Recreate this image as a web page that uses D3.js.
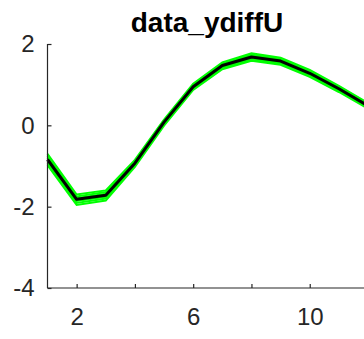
<!DOCTYPE html>
<html><head><meta charset="utf-8">
<script src="https://cdn.jsdelivr.net/npm/d3@7"></script>
<style>html,body{margin:0;padding:0;background:#fff;overflow:hidden}</style>
</head><body>
<svg id="c" width="364" height="339"></svg>
<script>
const xs = [1,2,3,4,5,6,7,8,9,10,11,12];
const meanVals = [-0.84,-1.82,-1.72,-0.93,0.08,0.95,1.47,1.68,1.58,1.28,0.90,0.48];
const sample1 = [-0.70,-1.70,-1.60,-0.85,0.14,1.02,1.55,1.77,1.66,1.36,0.97,0.55];
const sample2 = [-0.75,-1.75,-1.64,-0.88,0.12,0.99,1.52,1.74,1.63,1.33,0.95,0.53];
const sample3 = [-0.80,-1.79,-1.68,-0.90,0.10,0.97,1.50,1.71,1.61,1.31,0.93,0.51];
const sample4 = [-0.88,-1.86,-1.76,-0.96,0.05,0.93,1.44,1.65,1.55,1.25,0.87,0.46];
const sample5 = [-0.93,-1.91,-1.80,-0.99,0.02,0.90,1.41,1.62,1.52,1.22,0.85,0.44];
const sample6 = [-0.98,-1.96,-1.85,-1.02,-0.01,0.87,1.38,1.59,1.49,1.19,0.82,0.41];
const samples = [sample1,sample2,sample3,sample4,sample5,sample6];
const xTicks = [2,4,6,8,10,12];
const xTickLabels = ["2","","6","","10",""];
const yTicks = [-4,-2,0,2];
const yTickLabels = ["-4","-2","0","2"];
const title = "data_ydiffU";

const svg = d3.select("#c");
const x = d3.scaleLinear().domain([1,12]).range([47.5,368]);
const y = d3.scaleLinear().domain([-4,2]).range([288,44]);
const line = d3.line().x((d,i)=>x(xs[i])).y(d=>y(d));
const ff = "Liberation Sans, Arial, sans-serif";

const g = svg.append("g");
samples.forEach(s=>{
  g.append("path").attr("d",line(s)).attr("fill","none")
   .attr("stroke","#00ff00").attr("stroke-width",2);
});
g.append("path").attr("d",line(meanVals)).attr("fill","none")
 .attr("stroke","#000").attr("stroke-width",3).attr("stroke-linejoin","round");

const col = "#262626";
const xAxis = d3.axisBottom(x).tickValues(xTicks).tickFormat((d,i)=>xTickLabels[i]).tickSizeInner(-4).tickSizeOuter(0).tickPadding(20);
const gx = svg.append("g").attr("transform",`translate(0,${y(-4)})`).call(xAxis);
gx.select(".domain").attr("stroke",col).attr("stroke-width",1.2).attr("d",`M${x(1)},0H${x(12)}`);
gx.selectAll(".tick line").attr("stroke",col).attr("stroke-width",1.2);
gx.selectAll("text").attr("fill",col).attr("font-size",24).attr("font-family",ff);

const yAxis = d3.axisLeft(y).tickValues(yTicks).tickFormat((d,i)=>yTickLabels[i]).tickSizeInner(-4).tickSizeOuter(0).tickPadding(13);
const gy = svg.append("g").attr("transform",`translate(${x(1)},0)`).call(yAxis);
gy.select(".domain").attr("stroke",col).attr("stroke-width",1.2).attr("d",`M0,${y(-4)}V${y(2)}`);
gy.selectAll(".tick line").attr("stroke",col).attr("stroke-width",1.2);
gy.selectAll("text").attr("fill",col).attr("font-size",24).attr("font-family",ff);

svg.append("text").attr("x",207).attr("y",32).attr("text-anchor","middle")
 .attr("font-family",ff).attr("font-weight","bold")
 .attr("font-size",28).attr("fill","#000").text(title);
</script>
</body></html>
